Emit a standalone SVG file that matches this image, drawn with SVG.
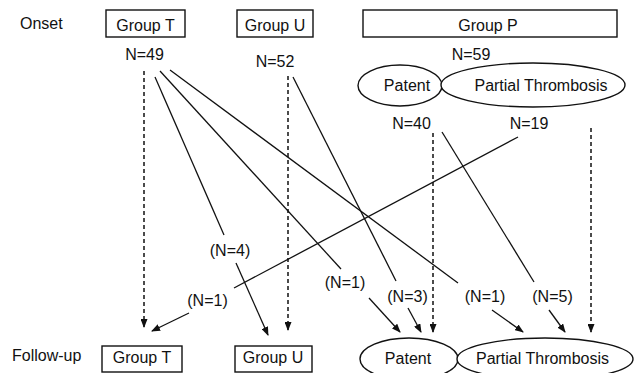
<svg xmlns="http://www.w3.org/2000/svg" width="634" height="373" viewBox="0 0 634 373">
<style>
text{font-family:"Liberation Sans",Arial,sans-serif;font-size:16px;fill:#111}
.c{text-anchor:middle}
.box{fill:#fff;stroke:#111;stroke-width:1.4}
.ell{fill:#fff;stroke:#111;stroke-width:1.4}
.ln{stroke:#111;stroke-width:1.3;fill:none}
.ds{stroke:#111;stroke-width:1.5;fill:none;stroke-dasharray:4 3}
</style>
<defs>
<marker id="ah" markerUnits="userSpaceOnUse" markerWidth="9" markerHeight="7" refX="8" refY="3.5" orient="auto">
<path d="M0,0 L9,3.5 L0,7 z" fill="#111"/>
</marker>
</defs>
<rect width="634" height="373" fill="#fff"/>
<text x="20" y="29">Onset</text>
<text x="12" y="361">Follow-up</text>
<g id="onsetT"><rect class="box" x="106" y="10" width="79" height="27"/><text class="c" x="145.5" y="31">Group T</text></g>
<g id="onsetU"><rect class="box" x="237" y="10" width="76" height="27"/><text class="c" x="275" y="31">Group U</text></g>
<g id="onsetP"><rect class="box" x="363" y="10" width="254" height="27"/><text class="c" x="488" y="31">Group P</text></g>
<g id="nT"><text class="c" x="144.5" y="60">N=49</text></g>
<g id="nU"><text class="c" x="275" y="67">N=52</text></g>
<g id="nP"><text class="c" x="471" y="60">N=59</text></g>
<g id="onsetPatent"><ellipse class="ell" cx="400" cy="85.5" rx="42" ry="20.5"/><text class="c" x="407" y="91">Patent</text></g>
<g id="onsetPartial"><ellipse class="ell" cx="533" cy="85" rx="92" ry="22"/><text class="c" x="541" y="91">Partial Thrombosis</text></g>
<g id="nPat"><text class="c" x="411.5" y="129">N=40</text></g>
<g id="nPar"><text class="c" x="529" y="129">N=19</text></g>
<g id="l4"><text class="c" x="230" y="256">(N=4)</text></g>
<g id="l1a"><text class="c" x="207.5" y="306">(N=1)</text></g>
<g id="l1b"><text class="c" x="345" y="288">(N=1)</text></g>
<g id="l3"><text class="c" x="407.5" y="302">(N=3)</text></g>
<g id="l1c"><text class="c" x="485" y="302">(N=1)</text></g>
<g id="l5"><text class="c" x="552.5" y="302">(N=5)</text></g>
<g id="fuT"><rect class="box" x="102" y="346" width="80" height="26"/><text class="c" x="142" y="363">Group T</text></g>
<g id="fuU"><rect class="box" x="235" y="346" width="77" height="26"/><text class="c" x="273" y="363">Group U</text></g>
<g id="fuPatent"><ellipse class="ell" cx="409" cy="359" rx="49" ry="21"/><text class="c" x="408" y="364">Patent</text></g>
<g id="fuPartial"><ellipse class="ell" cx="545" cy="359" rx="88" ry="21"/><text class="c" x="542.5" y="364">Partial Thrombosis</text></g>
<g id="connectors">
<line class="ds" x1="144" y1="71" x2="144" y2="327" marker-end="url(#ah)"/>
<line class="ds" x1="288" y1="76" x2="288" y2="330" marker-end="url(#ah)"/>
<line class="ds" x1="433" y1="133" x2="433" y2="332" marker-end="url(#ah)"/>
<line class="ds" x1="591" y1="128" x2="591" y2="332" marker-end="url(#ah)"/>
<line class="ln" x1="155" y1="77" x2="224" y2="235"/>
<line class="ln" x1="160" y1="71" x2="341" y2="269"/>
<line class="ln" x1="170" y1="70" x2="458" y2="283"/>
<line class="ln" x1="293" y1="77" x2="396" y2="281"/>
<line class="ln" x1="442" y1="132" x2="534" y2="282"/>
<line class="ln" x1="518" y1="137" x2="234" y2="288"/>
<line class="ln" x1="236" y1="263" x2="268" y2="335" marker-end="url(#ah)"/>
<line class="ln" x1="189" y1="313" x2="152" y2="331" marker-end="url(#ah)"/>
<line class="ln" x1="369" y1="298" x2="400" y2="332" marker-end="url(#ah)"/>
<line class="ln" x1="408" y1="308" x2="421" y2="332" marker-end="url(#ah)"/>
<line class="ln" x1="492" y1="310" x2="523" y2="332" marker-end="url(#ah)"/>
<line class="ln" x1="549" y1="310" x2="565" y2="332" marker-end="url(#ah)"/>
</g>
</svg>
